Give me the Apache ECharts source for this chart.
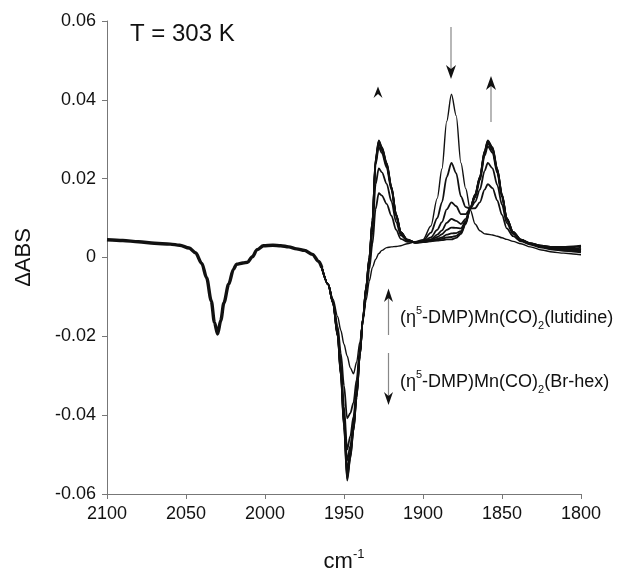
<!DOCTYPE html>
<html>
<head>
<meta charset="utf-8">
<script src="https://cdn.jsdelivr.net/npm/echarts@6.0.0/dist/echarts.min.js"></script>
<style>
  html, body { margin: 0; padding: 0; background: #fff; }
  #chart { width: 622px; height: 571px; }
</style>
</head>
<body>
<div id="chart"></div>
<script>
// === DATA ===
// shared part of all spectra (2100 -> 1964 cm-1)
const wnShared = [2100, 2090, 2080, 2070, 2060, 2054, 2048, 2044, 2040, 2037, 2034, 2032, 2030, 2028, 2026,
  2023, 2020, 2018, 2014, 2011, 2008, 2005, 2001, 1995, 1990, 1985, 1980, 1975, 1970, 1966, 1964];
const absShared = [0.0045, 0.0043, 0.0040, 0.0036, 0.0034, 0.0031, 0.0024, 0.0012, -0.0015, -0.0051, -0.0110,
  -0.0165, -0.0194, -0.0160, -0.0115, -0.0068, -0.0030, -0.0017, -0.0014, -0.0012, 0.0002, 0.0020, 0.0030,
  0.0031, 0.0030, 0.0027, 0.0022, 0.0018, 0.0008, -0.0010, -0.0026];

// wavenumber grid for the time-dependent part (1964 -> 1800 cm-1)
const wnGrid = [1964, 1960, 1957, 1954, 1952, 1950, 1948, 1946, 1944, 1942,
  1940, 1938, 1936, 1934, 1932, 1930, 1928, 1926, 1923, 1920,
  1917, 1914, 1910, 1905, 1900, 1895, 1891, 1888, 1885, 1882,
  1879, 1876, 1873, 1870, 1867, 1864, 1861, 1859, 1856, 1853,
  1850, 1847, 1843, 1838, 1832, 1825, 1818, 1811, 1805, 1800];

const abs1 = [-0.0026, -0.0068, -0.0105, -0.0150, -0.0185, -0.0220, -0.0250, -0.0280, -0.0295, -0.0265,
  -0.0215, -0.0160, -0.0108, -0.0060, -0.0025, -0.0005, 0.0010, 0.0018, 0.0025, 0.0027,
  0.0028, 0.0030, 0.0035, 0.0040, 0.0045, 0.0080, 0.0150, 0.0225, 0.0345, 0.0414,
  0.0360, 0.0240, 0.0175, 0.0120, 0.0085, 0.0068, 0.0060, 0.0059, 0.0057, 0.0054,
  0.0050, 0.0046, 0.0041, 0.0035, 0.0027, 0.0019, 0.0014, 0.0011, 0.0009, 0.0007];
const abs2 = [-0.0026, -0.0068, -0.0110, -0.0175, -0.0243, -0.0325, -0.0408, -0.0395, -0.0368, -0.0310,
  -0.0233, -0.0157, -0.0091, -0.0030, 0.0035, 0.0123, 0.0163, 0.0157, 0.0136, 0.0106,
  0.0070, 0.0047, 0.0040, 0.0039, 0.0042, 0.0063, 0.0100, 0.0140, 0.0204, 0.0240,
  0.0214, 0.0155, 0.0128, 0.0124, 0.0125, 0.0140, 0.0172, 0.0186, 0.0176, 0.0145,
  0.0108, 0.0074, 0.0054, 0.0041, 0.0033, 0.0025, 0.0020, 0.0017, 0.0015, 0.0013];
const abs3 = [-0.0026, -0.0068, -0.0113, -0.0188, -0.0271, -0.0378, -0.0487, -0.0453, -0.0404, -0.0333,
  -0.0241, -0.0156, -0.0083, -0.0015, 0.0065, 0.0186, 0.0226, 0.0216, 0.0187, 0.0143,
  0.0090, 0.0056, 0.0043, 0.0039, 0.0041, 0.0051, 0.0070, 0.0090, 0.0122, 0.0140,
  0.0130, 0.0110, 0.0110, 0.0125, 0.0141, 0.0172, 0.0220, 0.0240, 0.0226, 0.0184,
  0.0134, 0.0088, 0.0060, 0.0043, 0.0034, 0.0027, 0.0022, 0.0019, 0.0017, 0.0016];
const abs4 = [-0.0026, -0.0068, -0.0114, -0.0193, -0.0284, -0.0401, -0.0515, -0.0478, -0.0420, -0.0342,
  -0.0245, -0.0155, -0.0079, -0.0008, 0.0088, 0.0235, 0.0280, 0.0265, 0.0228, 0.0172,
  0.0105, 0.0060, 0.0044, 0.0038, 0.0040, 0.0046, 0.0058, 0.0069, 0.0088, 0.0098,
  0.0093, 0.0085, 0.0098, 0.0126, 0.0152, 0.0196, 0.0258, 0.0282, 0.0266, 0.0214,
  0.0153, 0.0095, 0.0062, 0.0044, 0.0035, 0.0028, 0.0023, 0.0020, 0.0018, 0.0019];
const abs5 = [-0.0026, -0.0068, -0.0114, -0.0196, -0.0291, -0.0413, -0.0538, -0.0492, -0.0428, -0.0348,
  -0.0247, -0.0155, -0.0077, -0.0005, 0.0090, 0.0242, 0.0288, 0.0272, 0.0234, 0.0176,
  0.0107, 0.0062, 0.0044, 0.0038, 0.0040, 0.0044, 0.0052, 0.0059, 0.0070, 0.0076,
  0.0075, 0.0074, 0.0092, 0.0126, 0.0156, 0.0200, 0.0264, 0.0289, 0.0273, 0.0219,
  0.0156, 0.0097, 0.0063, 0.0044, 0.0035, 0.0028, 0.0023, 0.0020, 0.0019, 0.0022];
const abs6 = [-0.0026, -0.0068, -0.0115, -0.0198, -0.0295, -0.0422, -0.0553, -0.0501, -0.0434, -0.0351,
  -0.0249, -0.0154, -0.0075, -0.0002, 0.0092, 0.0246, 0.0292, 0.0276, 0.0237, 0.0178,
  0.0108, 0.0063, 0.0045, 0.0038, 0.0039, 0.0043, 0.0047, 0.0051, 0.0058, 0.0061,
  0.0062, 0.0067, 0.0089, 0.0127, 0.0158, 0.0202, 0.0267, 0.0293, 0.0276, 0.0222,
  0.0158, 0.0099, 0.0064, 0.0045, 0.0036, 0.0029, 0.0025, 0.0023, 0.0022, 0.0025];
const abs7 = [-0.0026, -0.0068, -0.0115, -0.0199, -0.0298, -0.0427, -0.0561, -0.0506, -0.0438, -0.0354,
  -0.0250, -0.0154, -0.0075, -0.0001, 0.0094, 0.0248, 0.0295, 0.0278, 0.0239, 0.0179,
  0.0109, 0.0064, 0.0045, 0.0038, 0.0039, 0.0042, 0.0045, 0.0047, 0.0051, 0.0052,
  0.0055, 0.0063, 0.0087, 0.0127, 0.0159, 0.0204, 0.0269, 0.0295, 0.0278, 0.0224,
  0.0159, 0.0100, 0.0065, 0.0045, 0.0036, 0.0030, 0.0026, 0.0025, 0.0026, 0.0028];
const abs8 = [-0.0026, -0.0068, -0.0115, -0.0200, -0.0300, -0.0430, -0.0566, -0.0510, -0.0440, -0.0355,
  -0.0250, -0.0154, -0.0074, 0.0000, 0.0095, 0.0250, 0.0297, 0.0280, 0.0240, 0.0180,
  0.0110, 0.0064, 0.0045, 0.0038, 0.0039, 0.0041, 0.0043, 0.0044, 0.0046, 0.0046,
  0.0050, 0.0060, 0.0085, 0.0127, 0.0160, 0.0205, 0.0270, 0.0297, 0.0280, 0.0225,
  0.0160, 0.0100, 0.0065, 0.0045, 0.0036, 0.0030, 0.0027, 0.0027, 0.0028, 0.0030];

const spectra = [abs1, abs2, abs3, abs4, abs5, abs6, abs7, abs8];

const xTicks = { min: 1800, max: 2100, step: 50 };
const yTicks = { min: -0.06, max: 0.06, step: 0.02 };

// === RENDER ===
const FONT = '"Liberation Sans", Arial, Helvetica, sans-serif';
const INK = '#111';
const AXIS = '#777';

function pairs(xs, ys) {
  return xs.map((x, i) => [x, ys[i]]);
}

const chart = echarts.init(document.getElementById('chart'), null, { renderer: 'canvas' });

const series = [{
  type: 'line',
  data: pairs(wnShared, absShared),
  showSymbol: false,
  smooth: 0.3,
  smoothMonotone: 'x',
  lineStyle: { color: INK, width: 3.4 },
  silent: true
}];
spectra.forEach((s, i) => {
  series.push({
    type: 'line',
    data: pairs(wnGrid, s),
    showSymbol: false,
    smooth: 0.3,
    smoothMonotone: 'x',
    lineStyle: { color: INK, width: i === 0 ? 1.4 : 1.8 },
    silent: true
  });
});

const arrowShaft = { stroke: '#888', lineWidth: 1.2 };
const arrowHead = { fill: INK };
const richSupSub = {
  sup: { fontSize: 11, fontFamily: FONT, fill: INK, verticalAlign: 'top', lineHeight: 12 },
  sub: { fontSize: 11, fontFamily: FONT, fill: INK, verticalAlign: 'bottom', lineHeight: 12 }
};

chart.setOption({
  animation: false,
  backgroundColor: '#fff',
  grid: { left: 107, right: 41, top: 21, bottom: 77, outerBoundsMode: 'none', containLabel: false },
  xAxis: {
    type: 'value',
    inverse: true,
    min: xTicks.min,
    max: xTicks.max,
    interval: xTicks.step,
    name: 'cm{sup|-1}',
    nameLocation: 'middle',
    nameGap: 54,
    nameTextStyle: {
      fontSize: 22, fontFamily: FONT, color: INK, lineHeight: 28,
      rich: { sup: { fontSize: 13, fontFamily: FONT, color: INK, verticalAlign: 'top', lineHeight: 14 } }
    },
    axisLine: { onZero: false, lineStyle: { color: AXIS, width: 1 } },
    axisTick: { length: 5, lineStyle: { color: AXIS } },
    axisLabel: { fontSize: 18, fontFamily: FONT, color: INK, margin: 11, formatter: v => String(v) },
    splitLine: { show: false }
  },
  yAxis: {
    type: 'value',
    min: yTicks.min,
    max: yTicks.max,
    interval: yTicks.step,
    name: 'ΔABS',
    nameLocation: 'middle',
    nameGap: 72,
    nameTextStyle: { fontSize: 22, fontFamily: FONT, color: INK },
    axisLine: { show: true, onZero: false, lineStyle: { color: AXIS, width: 1 } },
    axisTick: { show: true, length: 5, lineStyle: { color: AXIS } },
    axisLabel: { fontSize: 18, fontFamily: FONT, color: INK, margin: 11 },
    splitLine: { show: false }
  },
  series: series,
  graphic: [
    { type: 'text', left: 130, top: 22, style: { text: 'T = 303 K', fontSize: 24, fontFamily: FONT, fill: INK } },
    // arrows above the carbonyl bands
    { type: 'polygon', shape: { points: [[373.5, 98], [378, 86.5], [382.5, 98], [378, 94]] }, style: arrowHead },
    { type: 'polyline', shape: { points: [[451, 27], [451, 70]] }, style: arrowShaft },
    { type: 'polygon', shape: { points: [[446, 65], [451, 79], [456, 65], [451, 69]] }, style: arrowHead },
    { type: 'polyline', shape: { points: [[491, 86], [491, 122]] }, style: arrowShaft },
    { type: 'polygon', shape: { points: [[486, 90], [491, 76], [496, 90], [491, 86]] }, style: arrowHead },
    // species legend arrows
    { type: 'polyline', shape: { points: [[388.5, 297], [388.5, 335]] }, style: arrowShaft },
    { type: 'polygon', shape: { points: [[384, 302], [388.5, 288.5], [393, 302], [388.5, 298]] }, style: arrowHead },
    { type: 'polyline', shape: { points: [[388.5, 353], [388.5, 397]] }, style: arrowShaft },
    { type: 'polygon', shape: { points: [[384, 392], [388.5, 405], [393, 392], [388.5, 396]] }, style: arrowHead },
    {
      type: 'text', left: 400, top: 305,
      style: { text: '(η{sup|5}-DMP)Mn(CO){sub|2}(lutidine)', fontSize: 18, fontFamily: FONT, fill: INK, lineHeight: 26, rich: richSupSub }
    },
    {
      type: 'text', left: 400, top: 369,
      style: { text: '(η{sup|5}-DMP)Mn(CO){sub|2}(Br-hex)', fontSize: 18, fontFamily: FONT, fill: INK, lineHeight: 26, rich: richSupSub }
    }
  ]
});
</script>
</body>
</html>
